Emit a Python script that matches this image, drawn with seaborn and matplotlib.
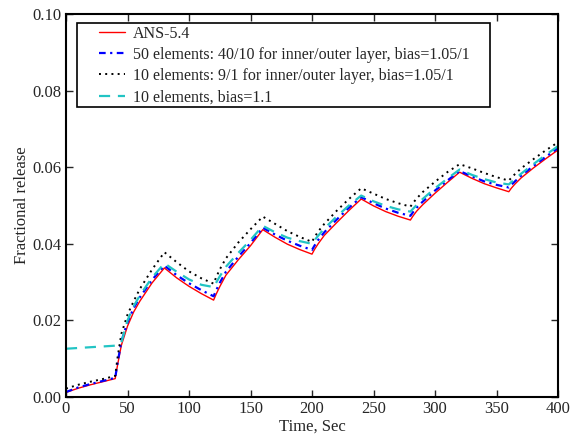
import matplotlib
matplotlib.use("Agg")
import matplotlib.pyplot as plt
from matplotlib.patches import Rectangle
import seaborn as sns
import pandas as pd

time = [0, 10, 20, 30, 40, 42, 45, 50, 55, 60, 70, 80,
        90, 100, 110, 120, 122, 125, 130, 140, 150, 160,
        170, 180, 190, 200, 202, 205, 210, 220, 230, 240,
        250, 260, 270, 280, 282, 285, 290, 300, 310, 320,
        330, 340, 350, 360, 362, 365, 370, 380, 390, 400]

ans54 = [0.0012, 0.0023, 0.0032, 0.0040, 0.0048, 0.0085, 0.0135, 0.0185, 0.0222, 0.0250, 0.0298, 0.0337,
         0.0311, 0.0289, 0.0270, 0.0253, 0.0268, 0.0288, 0.0318, 0.0358, 0.0395, 0.0437,
         0.0417, 0.0399, 0.0385, 0.0373, 0.0385, 0.0400, 0.0422, 0.0455, 0.0487, 0.0517,
         0.0499, 0.0484, 0.0472, 0.0462, 0.0472, 0.0485, 0.0502, 0.0532, 0.0560, 0.0587,
         0.0571, 0.0557, 0.0546, 0.0536, 0.0545, 0.0556, 0.0572, 0.0598, 0.0622, 0.0645]

el50 = [0.0013, 0.0025, 0.0034, 0.0042, 0.0050, 0.0090, 0.0145, 0.0195, 0.0232, 0.0260, 0.0306, 0.0343,
        0.0318, 0.0297, 0.0279, 0.0263, 0.0278, 0.0298, 0.0327, 0.0366, 0.0402, 0.0442,
        0.0424, 0.0408, 0.0395, 0.0384, 0.0395, 0.0410, 0.0430, 0.0463, 0.0494, 0.0522,
        0.0506, 0.0492, 0.0481, 0.0473, 0.0482, 0.0494, 0.0510, 0.0539, 0.0565, 0.0590,
        0.0576, 0.0563, 0.0554, 0.0547, 0.0554, 0.0563, 0.0578, 0.0603, 0.0627, 0.0650]

el10_91 = [0.0022, 0.0032, 0.0040, 0.0047, 0.0055, 0.0105, 0.0165, 0.0215, 0.0250, 0.0282, 0.0333, 0.0378,
           0.0352, 0.0328, 0.0310, 0.0296, 0.0312, 0.0333, 0.0362, 0.0403, 0.0438, 0.0471,
           0.0452, 0.0433, 0.0418, 0.0405, 0.0417, 0.0432, 0.0452, 0.0486, 0.0517, 0.0545,
           0.0531, 0.0517, 0.0506, 0.0497, 0.0506, 0.0518, 0.0535, 0.0562, 0.0587, 0.0608,
           0.0597, 0.0585, 0.0574, 0.0565, 0.0572, 0.0582, 0.0597, 0.0621, 0.0644, 0.0665]

el10_b11 = [0.0126, 0.0128, 0.0130, 0.0132, 0.0134, 0.0136, 0.0142, 0.0200, 0.0237, 0.0265, 0.0312, 0.0349,
            0.0327, 0.0307, 0.0293, 0.0287, 0.0298, 0.0315, 0.0340, 0.0376, 0.0410, 0.0447,
            0.0430, 0.0416, 0.0407, 0.0400, 0.0409, 0.0421, 0.0440, 0.0471, 0.0500, 0.0526,
            0.0511, 0.0499, 0.0490, 0.0484, 0.0491, 0.0501, 0.0517, 0.0545, 0.0570, 0.0594,
            0.0580, 0.0569, 0.0560, 0.0555, 0.0561, 0.0569, 0.0583, 0.0608, 0.0632, 0.0655]

labels = ["ANS-5.4",
          "50 elements: 40/10 for inner/outer layer, bias=1.05/1",
          "10 elements: 9/1 for inner/outer layer, bias=1.05/1",
          "10 elements, bias=1.1"]
xticks = [0, 50, 100, 150, 200, 250, 300, 350, 400]
yticks = [0.00, 0.02, 0.04, 0.06, 0.08, 0.10]

sns.set_style("ticks")
plt.rcParams['font.family'] = ['Liberation Serif', 'DejaVu Serif']

W, H = 586, 438
fig = plt.figure(figsize=(W / 100, H / 100), dpi=100)
L, R, T, B = 66, 558, 14, 397
ax = fig.add_axes([L / W, (H - B) / H, (R - L) / W, (B - T) / H])

def ax_x(px):
    return (px - L) / (R - L)

def ax_y(py):
    return (B - py) / (B - T)

series = [ans54, el50, el10_91, el10_b11]
styles = [dict(color="red", lw=1.0, ls="-"),
          dict(color="blue", lw=1.6, ls=(0, (3, 2, 1, 2))),
          dict(color="black", lw=1.4, ls=(0, (1, 2.2))),
          dict(color="#22c4c4", lw=1.6, ls=(0, (5, 3.5)))]
for vals, lab, st in zip(series, labels, styles):
    df = pd.DataFrame({"Time": time, "Release": vals})
    sns.lineplot(data=df, x="Time", y="Release", ax=ax, label=lab,
                 color=st["color"], linewidth=st["lw"], linestyle=st["ls"],
                 estimator=None, sort=False)

ax.set_xlim(0, 400)
ax.set_ylim(0, 0.10)
ax.set_xticks(xticks)
ax.set_xticklabels([str(t) for t in xticks])
ax.set_yticks(yticks)
ax.set_yticklabels([f"{v:.2f}" for v in yticks])
ax.tick_params(direction="in", top=True, right=True, length=5, width=1.0,
               labelsize=12, pad=3)
for s in ax.spines.values():
    s.set_linewidth(1.5)
    s.set_color("black")
ax.set_xlabel("Time, Sec", fontsize=12, labelpad=1)
ax.set_ylabel("Fractional release", fontsize=12, labelpad=2)

leg = ax.legend(loc="upper left", bbox_to_anchor=(ax_x(99), ax_y(25.5)), borderaxespad=0,
                fontsize=11.5, frameon=False, handlelength=1.6,
                handletextpad=0.55, labelspacing=0.33, borderpad=0.0)
frame = Rectangle((ax_x(77), ax_y(106.7)), ax_x(490) - ax_x(77), ax_y(22.7) - ax_y(106.7),
                  transform=ax.transAxes, fill=True, facecolor="white",
                  edgecolor="black", linewidth=1.2, zorder=4.9)
ax.add_patch(frame)
leg.set_zorder(5)

fig.savefig("out.png", dpi=100)
